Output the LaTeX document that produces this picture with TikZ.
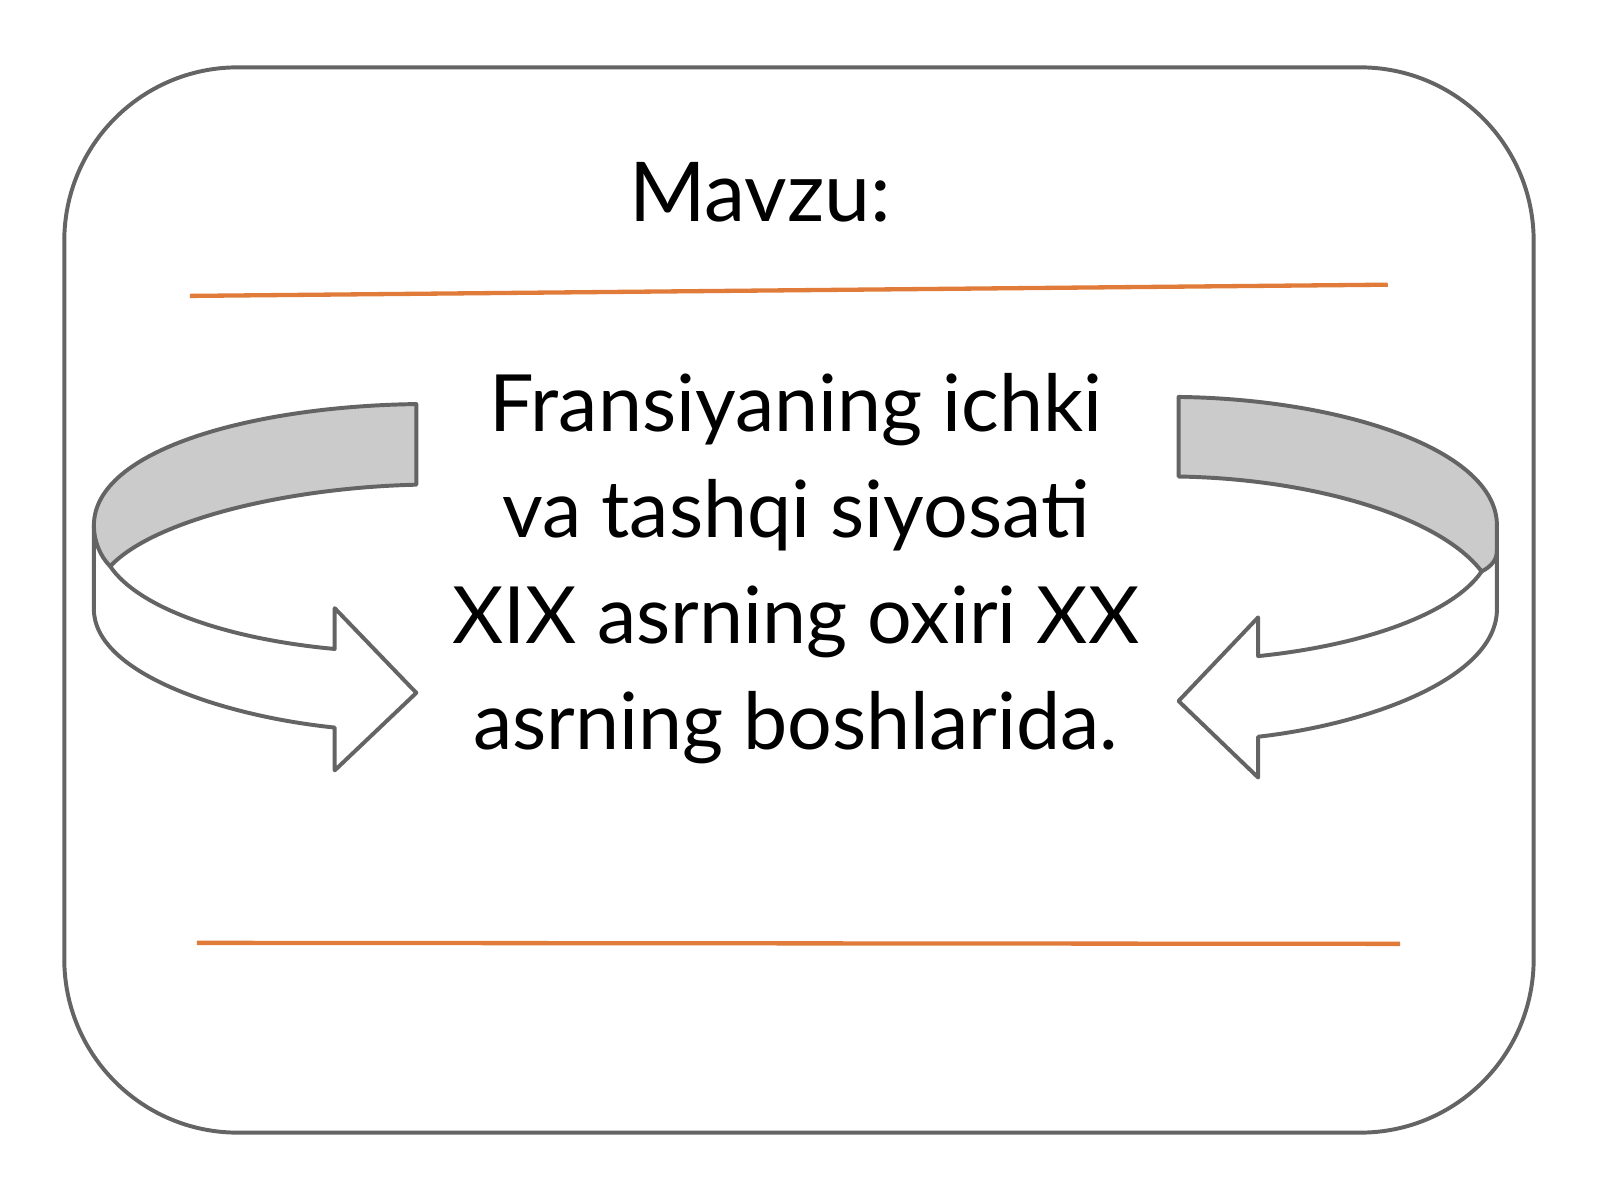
\documentclass[tikz,border=0pt]{standalone}
\usepackage{fontspec}
\setmainfont{Lato}
\usetikzlibrary{positioning}
\definecolor{frame}{HTML}{646464}
\definecolor{rule}{HTML}{E07B39}
\definecolor{band}{HTML}{CBCBCB}
\begin{document}
\begin{tikzpicture}[
    x=0.01cm, y=-0.01cm,
    outline/.style={draw=frame, line width=1.1pt, line join=round},
    line/.style={draw=rule, line width=1.2pt},
    title/.style={font=\fontsize{23}{28}\selectfont},
    body/.style={font=\fontsize{22}{29.5}\selectfont, align=center}
]
\useasboundingbox (0,0) rectangle (1568,1176);

% frame
\draw[outline, rounded corners=1.7cm] (63,66) rectangle (1503,1110);

% text
\node[title] (title) at (745,188) {Mavzu:};
\node[body] (topic) at (780,557) {Fransiyaning ichki\\va tashqi siyosati\\XIX asrning oxiri XX\\asrning boshlarida.};

% orange rules
\coordinate (r1a) at (186,290);
\coordinate (r1b) at (1360,279);
\coordinate (r2a) at (193,924);
\coordinate (r2b) at (1372,925);
\draw[line] (r1a) -- (r1b);
\draw[line] (r2a) -- (r2b);

% left arrow
\fill[band] (408,396) .. controls (250,398) and (92,440) .. (92,515)
  .. controls (92,530) and (98,545) .. (108,555)
  .. controls (150,510) and (280,478) .. (408,475) -- cycle;
\draw[outline] (408,396) .. controls (250,398) and (92,440) .. (92,515)
  -- (92,597) .. controls (92,660) and (220,702) .. (328,713)
  -- (328,755) -- (408,679) -- (328,596) -- (328,636)
  .. controls (220,626) and (135,595) .. (108,555)
  .. controls (150,510) and (280,478) .. (408,475) -- cycle;
\draw[outline] (92,515) .. controls (92,530) and (98,545) .. (108,555);

% right arrow
\fill[band] (1155,389) .. controls (1313,391) and (1467,440) .. (1467,515)
  -- (1467,540) .. controls (1467,548) and (1462,555) .. (1452,560)
  .. controls (1410,505) and (1283,469) .. (1155,467) -- cycle;
\draw[outline] (1155,389) .. controls (1313,391) and (1467,440) .. (1467,515)
  -- (1467,597) .. controls (1467,665) and (1340,710) .. (1233,722)
  -- (1233,762) -- (1155,687) -- (1233,605) -- (1233,643)
  .. controls (1340,632) and (1425,600) .. (1452,560)
  .. controls (1410,505) and (1283,469) .. (1155,467) -- cycle;
\draw[outline] (1467,540) .. controls (1467,548) and (1462,555) .. (1452,560);

\end{tikzpicture}
\end{document}
